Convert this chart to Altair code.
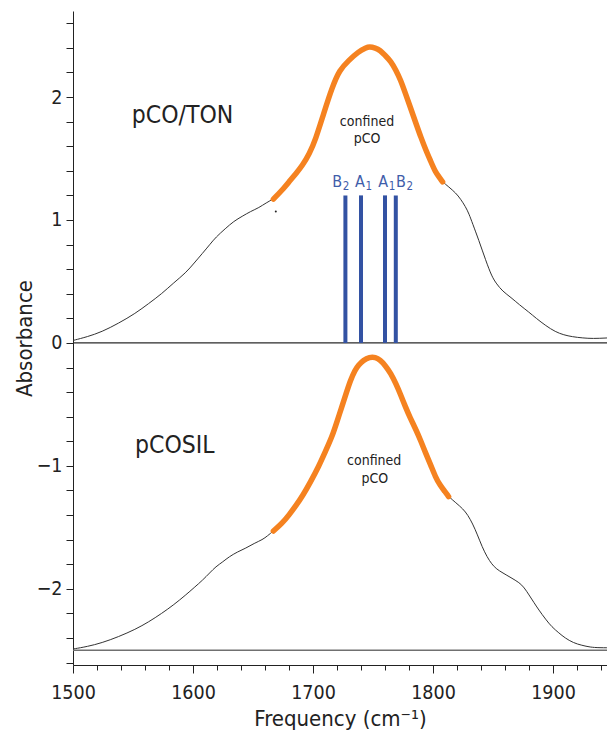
import altair as alt
import pandas as pd

# ---- data ----
freq_ton = [1500, 1512, 1524, 1538, 1552, 1563, 1574, 1584, 1594, 1601, 1608, 1614, 1619, 1627,
            1634, 1641, 1648, 1655, 1661, 1667, 1674, 1680, 1686, 1691, 1697, 1702, 1709, 1716,
            1722, 1730, 1738, 1744, 1747, 1752, 1756, 1760, 1765, 1769, 1773, 1777, 1781, 1786,
            1790, 1794, 1798, 1802, 1805, 1808, 1813, 1819, 1823, 1827, 1830, 1833, 1838, 1844,
            1849, 1853, 1858, 1865, 1872, 1880, 1886, 1894, 1902, 1909, 1916, 1925, 1933, 1945, 1952]
abs_ton = [0.02, 0.05, 0.09, 0.16, 0.24, 0.32, 0.40, 0.49, 0.57, 0.65, 0.73, 0.80, 0.86, 0.93,
           0.99, 1.03, 1.07, 1.10, 1.14, 1.17, 1.24, 1.31, 1.38, 1.44, 1.54, 1.65, 1.87, 2.08,
           2.22, 2.30, 2.37, 2.40, 2.41, 2.40, 2.38, 2.34, 2.29, 2.22, 2.14, 2.03, 1.92, 1.78,
           1.67, 1.57, 1.48, 1.39, 1.35, 1.31, 1.27, 1.22, 1.17, 1.11, 1.05, 0.97, 0.84, 0.67,
           0.54, 0.48, 0.42, 0.37, 0.31, 0.25, 0.20, 0.14, 0.09, 0.065, 0.05, 0.04, 0.035, 0.04, 0.045]

freq_sil = [1500, 1512, 1524, 1538, 1552, 1563, 1574, 1584, 1594, 1601, 1608, 1614, 1619, 1625,
            1630, 1637, 1644, 1651, 1658, 1662, 1667, 1674, 1680, 1686, 1691, 1698, 1705, 1710,
            1716, 1720, 1724, 1728, 1731, 1735, 1738, 1742, 1747, 1752, 1756, 1760, 1765, 1769,
            1773, 1777, 1781, 1786, 1790, 1794, 1798, 1802, 1806, 1810, 1813, 1819, 1825, 1829,
            1833, 1837, 1841, 1845, 1849, 1853, 1858, 1865, 1872, 1876, 1880, 1884, 1888, 1894,
            1899, 1905, 1910, 1917, 1924, 1931, 1938, 1952]
abs_sil = [-2.49, -2.47, -2.44, -2.39, -2.33, -2.27, -2.20, -2.13, -2.05, -1.99, -1.93, -1.87, -1.82, -1.78,
           -1.74, -1.70, -1.67, -1.63, -1.60, -1.57, -1.53, -1.47, -1.40, -1.32, -1.25, -1.13, -1.00, -0.89,
           -0.76, -0.64, -0.52, -0.40, -0.31, -0.22, -0.18, -0.14, -0.115, -0.115, -0.14, -0.18, -0.25, -0.33,
           -0.42, -0.52, -0.61, -0.71, -0.80, -0.90, -0.99, -1.09, -1.16, -1.21, -1.25, -1.30, -1.35, -1.40,
           -1.47, -1.56, -1.66, -1.74, -1.80, -1.84, -1.87, -1.91, -1.95, -1.99, -2.05, -2.11, -2.17, -2.25,
           -2.31, -2.36, -2.40, -2.44, -2.46, -2.475, -2.48, -2.48]

confined_ton = [1667, 1808]
confined_sil = [1667, 1813]

baselines = [0.0, -2.5]
baseline_colors = ["#2a2a2a", "#707070"]

mode_freq = [1727, 1740, 1760, 1769]
mode_top = [1.2, 1.2, 1.2, 1.2]
mode_letters = ["B", "A", "A", "B"]
mode_subs = ["2", "1", "1", "2"]
mode_label_freq = [1716.1, 1735.0, 1754.4, 1769.2]
mode_label_abs = [1.27, 1.27, 1.27, 1.27]

sample_labels = ["pCO/TON", "pCOSIL"]
sample_label_freq = [1549.0, 1551.7]
sample_label_abs = [1.791, -0.897]

note_lines = ["confined", "pCO", "confined", "pCO"]
note_freq = [1745.0, 1745.0, 1751.0, 1751.5]
note_abs = [1.80, 1.656, -0.959, -1.103]

dot_freq = [1669]
dot_abs = [1.07]

x_ticks = list(range(1500, 1960, 20))
y_ticks = [round(-2.6 + 0.2 * i, 1) for i in range(27)]

FONT = "DejaVu Sans Condensed"
ORANGE = "#F58220"
BLUE = "#3352A3"

# ---- tables ----
curves = pd.concat([
    pd.DataFrame({"f": freq_ton, "a": abs_ton, "s": "ton"}),
    pd.DataFrame({"f": freq_sil, "a": abs_sil, "s": "sil"}),
])
conf = pd.concat([
    pd.DataFrame({"f": freq_ton, "a": abs_ton, "s": "ton"}).query("f >= @confined_ton[0] and f <= @confined_ton[1]"),
    pd.DataFrame({"f": freq_sil, "a": abs_sil, "s": "sil"}).query("f >= @confined_sil[0] and f <= @confined_sil[1]"),
])
base_df = pd.DataFrame({"a": baselines, "c": baseline_colors})
modes = pd.DataFrame({"f": mode_freq, "a": [0.0] * 4, "a2": mode_top})
mode_txt = pd.DataFrame({"f": mode_label_freq, "a": mode_label_abs, "t": mode_letters, "s": mode_subs})
samp_txt = pd.DataFrame({"f": sample_label_freq, "a": sample_label_abs, "t": sample_labels})
note_txt = pd.DataFrame({"f": note_freq, "a": note_abs, "t": note_lines})
dot_df = pd.DataFrame({"f": dot_freq, "a": dot_abs})

xscale = alt.Scale(domain=[1500, 1945], nice=False, zero=False)
yscale = alt.Scale(domain=[-2.62, 2.70], nice=False, zero=False)

xaxis = alt.Axis(
    values=x_ticks,
    labelExpr="datum.value % 100 == 0 ? format(datum.value, 'd') : ''",
    tickSize={"condition": {"test": "datum.value % 100 == 0", "value": 8}, "value": 5},
    grid=False, domainColor="#222", tickColor="#222", labelColor="#222",
    labelFont=FONT, labelFontSize=19.5, labelPadding=10, labelFlush=False,
    titleFont=FONT, titleFontSize=22, titleFontWeight="normal", titleColor="#222",
    titlePadding=7,
)
yaxis = alt.Axis(
    values=y_ticks,
    labelExpr="abs(datum.value - round(datum.value)) < 0.001 ? format(round(datum.value), 'd') : ''",
    tickSize=7, grid=False, domainColor="#222", tickColor="#222", labelColor="#222",
    labelFont=FONT, labelFontSize=19.5, labelPadding=4, labelFlush=False,
    titleFont=FONT, titleFontSize=22, titleFontWeight="normal", titleColor="#222",
    titlePadding=0,
)

X = alt.X("f:Q", scale=xscale, axis=xaxis, title="Frequency (cm\u207b\u00b9)")
Y = alt.Y("a:Q", scale=yscale, axis=yaxis, title="Absorbance")

base_rules = alt.Chart(base_df).mark_rule(strokeWidth=1.3).encode(
    y=Y, color=alt.Color("c:N", scale=None)
)
black = alt.Chart(curves).mark_line(color="#333", strokeWidth=1, interpolate="basis", clip=True).encode(
    x=X, y=Y, detail="s:N"
)
orange = alt.Chart(conf).mark_line(color=ORANGE, strokeWidth=5.5, interpolate="basis",
                                   strokeCap="round", clip=True).encode(
    x=X, y=Y, detail="s:N"
)
bars = alt.Chart(modes).mark_rule(color=BLUE, strokeWidth=4).encode(x=X, y=Y, y2="a2:Q")
mode_letters_ch = alt.Chart(mode_txt).mark_text(
    align="left", baseline="alphabetic", font=FONT, fontSize=16, color="#3F5DAA"
).encode(x=X, y=Y, text="t:N")
mode_subs_ch = alt.Chart(mode_txt).mark_text(
    align="left", baseline="alphabetic", font=FONT, fontSize=11.5, color="#3F5DAA", dx=10.5, dy=3
).encode(x=X, y=Y, text="s:N")
samp_ch = alt.Chart(samp_txt).mark_text(
    align="left", baseline="alphabetic", font=FONT, fontSize=24.5, color="#222"
).encode(x=X, y=Y, text="t:N")
note_ch = alt.Chart(note_txt).mark_text(
    align="center", baseline="middle", font=FONT, fontSize=14, color="#222"
).encode(x=X, y=Y, text="t:N")
dot_ch = alt.Chart(dot_df).mark_circle(color="#222", size=4, opacity=1).encode(x=X, y=Y)

chart = alt.layer(
    base_rules, black, orange, bars, mode_letters_ch, mode_subs_ch, samp_ch, note_ch, dot_ch
).properties(
    width=534, height=654,
    autosize=alt.AutoSizeParams(type="none"),
    padding={"left": 65, "top": 3, "right": 0, "bottom": 67},
).configure_view(stroke=None)

chart.save("out.html", embed_options={"renderer": "svg", "actions": False})
